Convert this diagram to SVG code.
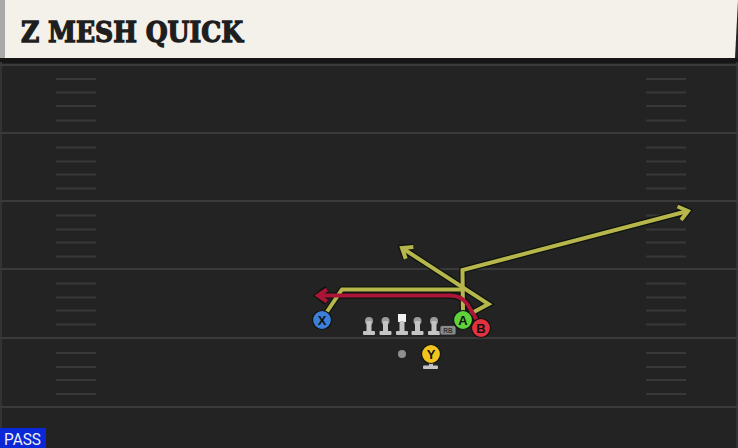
<svg xmlns="http://www.w3.org/2000/svg" width="738" height="448" viewBox="0 0 738 448">
<style>
.yard{stroke:#3a3a3a;stroke-width:2}
.hash{stroke:#383838;stroke-width:2}
.out{fill:none;stroke:#0d140c;stroke-width:6.5;stroke-linejoin:miter;stroke-linecap:butt}
.yel{fill:none;stroke:#b7b64c;stroke-width:4;stroke-linejoin:miter}
.red{fill:none;stroke:#ab1538;stroke-width:4;stroke-linejoin:miter}
.pl{stroke:#111;stroke-width:1.2}
.lt{font-family:"Liberation Sans",Arial,sans-serif;font-weight:bold;font-size:13px;fill:#111;text-anchor:middle}
.lm{fill:#c4c4c4}
.lh{fill:#9c9c9c}
</style>
<defs>
<marker id="ao" markerUnits="userSpaceOnUse" orient="auto" overflow="visible" markerWidth="20" markerHeight="20"><path d="M-9,-7 L0,0 L-9,7" fill="none" stroke="#0d140c" stroke-width="6.5"/></marker>
<marker id="ay" markerUnits="userSpaceOnUse" orient="auto" overflow="visible" markerWidth="20" markerHeight="20"><path d="M-9,-7 L0,0 L-9,7" fill="none" stroke="#b7b64c" stroke-width="4"/></marker>
<marker id="ar" markerUnits="userSpaceOnUse" orient="auto" overflow="visible" markerWidth="20" markerHeight="20"><path d="M-9,-6 L0,0 L-9,6" fill="none" stroke="#ab1538" stroke-width="4"/></marker>
<g id="lineman"><circle cx="0" cy="0" r="4" class="lh"/><rect x="-2.5" y="0" width="5" height="11" class="lm"/><rect x="-6" y="10" width="12" height="4" rx="1" class="lm"/></g>
</defs>
<rect x="0" y="0" width="738" height="448" fill="#232323"/>
<rect x="0" y="58" width="738" height="5" fill="#161616"/>
<line x1="1" y1="62" x2="1" y2="448" stroke="#333" stroke-width="2"/>
<line x1="737" y1="62" x2="737" y2="448" stroke="#333" stroke-width="2"/>
<g id="field">
<line class="yard" x1="0" y1="65" x2="738" y2="65"/>
<line class="yard" x1="0" y1="133" x2="738" y2="133"/>
<line class="yard" x1="0" y1="201" x2="738" y2="201"/>
<line class="yard" x1="0" y1="269" x2="738" y2="269"/>
<line class="yard" x1="0" y1="338" x2="738" y2="338"/>
<line class="yard" x1="0" y1="407" x2="738" y2="407"/>
<path class="hash" d="M56,79H96M56,92.5H96M56,106H96M56,120.5H96M56,147.5H96M56,161.5H96M56,174.5H96M56,188.5H96M56,215.5H96M56,229.5H96M56,242.5H96M56,256.5H96M56,283.5H96M56,297.5H96M56,310.5H96M56,324.5H96M56,353H96M56,367H96M56,380H96M56,394H96"/>
<path class="hash" d="M646,79H686M646,92.5H686M646,106H686M646,120.5H686M646,147.5H686M646,161.5H686M646,174.5H686M646,188.5H686M646,215.5H686M646,229.5H686M646,242.5H686M646,256.5H686M646,283.5H686M646,297.5H686M646,310.5H686M646,324.5H686M646,353H686M646,367H686M646,380H686M646,394H686"/>
</g>
<g id="header">
<rect x="0" y="0" width="5" height="58" fill="#a9a9a9"/>
<path d="M5,0 H738 L735,58 H5 Z" fill="#f4f1ea"/>
<text x="21" y="42" font-family="'DejaVu Serif','Liberation Serif',serif" font-weight="bold" font-size="27" fill="#1e1e1e" stroke="#1e1e1e" stroke-width="1.3" textLength="222" lengthAdjust="spacingAndGlyphs">Z MESH QUICK</text>
</g>
<g id="connectors">
<path class="out" d="M322,319 L342,289.5 L462.5,289.5"/>
<path class="out" d="M463,313 L462.5,270 L688,211" marker-end="url(#ao)"/>
<path class="out" d="M470,314 L488.5,304 L402,248" marker-end="url(#ao)"/>
<path class="out" d="M478,322 L468,305 Q462,295.5 450,295.5 L318,295.5" marker-end="url(#ao)"/>
<path class="yel" d="M322,319 L342,289.5 L462.5,289.5"/>
<path class="yel" d="M463,313 L462.5,270 L688,211" marker-end="url(#ay)"/>
<path class="yel" d="M470,314 L488.5,304 L402,248" marker-end="url(#ay)"/>
<path class="red" d="M478,322 L468,305 Q462,295.5 450,295.5 L318,295.5" marker-end="url(#ar)"/>
</g>
<g id="line">
<use href="#lineman" x="369" y="321"/>
<use href="#lineman" x="385.5" y="321"/>
<g><rect x="398" y="314" width="8" height="8" fill="#f2f2f2"/><rect x="399.5" y="321" width="5" height="10" class="lm"/><rect x="396" y="331" width="12" height="4" rx="1" class="lm"/></g>
<use href="#lineman" x="417.5" y="321"/>
<use href="#lineman" x="434" y="321"/>
</g>
<g id="rb"><rect x="440" y="325.5" width="16" height="9.5" rx="2" fill="#8a8a8a" stroke="#222" stroke-width="0.8"/><text x="448" y="333" font-family="'Liberation Sans',Arial,sans-serif" font-size="6.5" font-weight="bold" fill="#333" text-anchor="middle">RB</text></g>
<g id="ball"><circle cx="402" cy="354" r="4" fill="#8f8f8f"/></g>
<g id="Y"><rect x="429" y="361" width="4" height="6" fill="#bdbdbd"/><rect x="423" y="365.5" width="15" height="3.5" rx="1" fill="#c4c4c4"/><circle cx="431" cy="354" r="9.5" fill="#f2c41e" class="pl"/><text class="lt" x="431" y="358.5">Y</text></g>
<g id="X"><circle cx="322" cy="320" r="9.5" fill="#3b7fd9" class="pl"/><text class="lt" x="322" y="324.5">X</text></g>
<g id="A"><circle cx="463" cy="320" r="9.5" fill="#5fd23b" class="pl"/><text class="lt" x="463" y="324.5">A</text></g>
<g id="B"><circle cx="481" cy="328" r="9.5" fill="#e2323f" class="pl"/><text class="lt" x="481" y="332.5">B</text></g>
<g id="pass"><rect x="0" y="428" width="46" height="20" fill="#0a27d8"/><text x="4" y="445" font-family="Roboto,'Liberation Sans',sans-serif" font-size="16" fill="#f0f0f0" textLength="37" lengthAdjust="spacingAndGlyphs">PASS</text></g>
</svg>
